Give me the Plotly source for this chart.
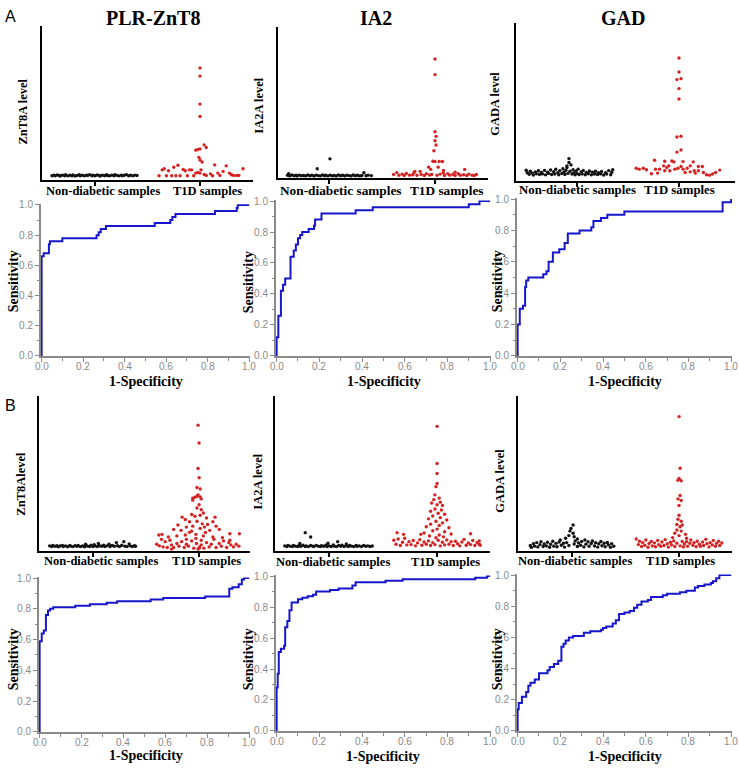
import plotly.graph_objects as go

# ---------------- DATA ----------------
CATEGORIES = ["Non-diabetic samples", "T1D samples"]
COLUMN_TITLES = ["PLR-ZnT8", "IA2", "GAD"]
SECTION_LABELS = ["A", "B"]
DOT_YTITLES_A = ["ZnT8A level", "IA2A level", "GADA level"]
DOT_YTITLES_B = ["ZnT8Alevel", "IA2A level", "GADA level"]
ROC_TICKS = [0.0, 0.2, 0.4, 0.6, 0.8, 1.0]

# dot plots: (jitter offset in category units, level in % of axis height)
A1_ND = [(-0.41,2.6),(-0.39,3.0),(-0.38,2.5),(-0.36,3.1),(-0.34,2.7),(-0.33,2.4),(-0.31,3.0),(-0.29,2.6),
         (-0.28,3.2),(-0.26,2.5),(-0.24,2.9),(-0.22,2.6),(-0.21,3.1),(-0.19,2.4),(-0.17,2.8),(-0.15,3.2),
         (-0.14,2.6),(-0.12,2.9),(-0.10,2.5),(-0.08,3.0),(-0.07,2.7),(-0.05,3.3),(-0.03,2.5),(-0.02,2.9),
         (0.00,2.6),(0.02,3.1),(0.04,2.7),(0.05,2.4),(0.07,3.0),(0.09,2.6),(0.11,3.2),(0.12,2.7),
         (0.14,2.5),(0.16,3.0),(0.18,2.6),(0.19,3.2),(0.21,2.8),(0.23,2.5),(0.25,3.0),(0.26,2.6),
         (0.28,2.9),(0.30,3.3),(0.32,2.6),(0.34,2.9),(0.36,2.5),(0.38,3.0),(0.40,2.7)]
A1_T1D = [(0.00,72.6),(0.00,67.3),(0.00,49.1),(0.00,41.0),(0.04,22.6),(0.06,20.9),(-0.04,19.2),(-0.02,19.7),
          (0.00,19.9),(-0.01,14.5),(0.00,12.8),(0.02,11.5),(0.01,6.4),(0.00,4.3),(0.04,3.4),(-0.39,2.6),
          (-0.36,6.4),(-0.34,7.1),(-0.32,2.6),(-0.30,5.8),(-0.27,2.6),(-0.25,8.1),(-0.23,2.6),(-0.21,9.4),
          (-0.19,2.6),(-0.16,6.6),(-0.14,5.8),(-0.12,2.6),(-0.10,6.4),(-0.08,6.4),(-0.06,2.6),(-0.04,4.3),
          (-0.02,4.7),(0.06,2.8),(0.10,3.8),(0.12,2.6),(0.14,9.6),(0.17,4.3),(0.19,2.8),(0.22,5.3),
          (0.25,9.0),(0.28,4.3),(0.30,3.2),(0.32,2.8),(0.35,2.8),(0.37,2.8),(0.41,7.1)]

A2_ND = [(-0.39,1.6),(-0.37,1.2),(-0.35,1.8),(-0.33,1.3),(-0.31,1.6),(-0.30,1.1),(-0.28,1.7),(-0.26,1.3),
         (-0.24,1.5),(-0.22,1.2),(-0.20,1.8),(-0.18,1.3),(-0.16,1.6),(-0.14,1.1),(-0.12,1.7),(-0.10,1.4),
         (-0.08,1.2),(-0.06,1.8),(-0.04,1.3),(-0.03,1.6),(-0.01,1.2),(0.01,1.7),(0.03,1.3),(0.05,1.5),
         (0.07,1.1),(0.09,1.8),(0.11,1.3),(0.13,1.6),(0.15,1.2),(0.17,1.7),(0.19,1.4),(0.21,1.2),
         (0.23,1.8),(0.25,1.3),(0.27,1.6),(0.29,1.2),(0.31,1.5),(0.35,1.3),(0.37,1.7),(0.40,1.4),
         (0.01,12.5),(-0.11,5.9),(0.33,3.3),(-0.38,2.6)]
A2_T1D = [(0.00,78.6),(0.00,68.3),(0.00,30.4),(0.01,27.4),(0.00,24.5),(0.01,21.7),(-0.01,17.9),(-0.02,10.9),
          (0.00,10.7),(0.04,10.7),(0.07,10.7),(-0.06,7.0),(-0.04,5.5),(0.03,7.0),(0.08,4.8),(-0.19,4.2),
          (-0.14,4.2),(0.28,5.5),(0.19,3.7),(-0.20,3.1),(0.08,3.1),
          (-0.39,2.2),(-0.36,3.4),(-0.34,1.6),(-0.31,2.4),(-0.29,1.5),(-0.27,2.8),(-0.24,1.7),(-0.21,2.0),
          (-0.17,1.6),(-0.13,2.1),(-0.10,1.5),(-0.08,2.6),(-0.05,1.8),(-0.03,2.2),(0.02,1.6),(0.05,2.4),
          (0.09,1.5),(0.12,2.7),(0.14,1.7),(0.17,2.3),(0.19,1.5),(0.22,2.6),(0.24,1.6),(0.27,2.0),
          (0.30,1.5),(0.32,2.4),(0.35,1.7),(0.37,1.5),(0.39,2.1)]

A3_ND = [(-0.50,6.6),(-0.49,5.0),(-0.47,4.1),(-0.46,6.0),(-0.44,4.8),(-0.43,3.6),(-0.41,5.6),(-0.40,4.4),
         (-0.38,6.3),(-0.37,3.9),(-0.35,5.2),(-0.34,4.3),(-0.32,6.5),(-0.31,3.7),(-0.29,5.4),(-0.28,4.6),
         (-0.26,6.8),(-0.25,3.9),(-0.23,5.7),(-0.22,4.2),(-0.21,7.2),(-0.19,5.0),(-0.18,3.8),(-0.17,6.3),
         (-0.15,4.5),(-0.14,7.6),(-0.13,5.3),(-0.12,3.9),(-0.11,6.6),(-0.10,8.3),(-0.09,4.6),(-0.08,14.0),
         (-0.08,11.5),(-0.07,6.0),(-0.06,10.0),(-0.05,4.2),(-0.10,9.4),(-0.04,7.0),(-0.03,5.1),(-0.02,3.7),
         (-0.01,6.2),(0.00,4.5),(0.01,7.3),(0.02,3.9),(0.04,5.6),(0.05,4.3),(0.06,6.5),(0.08,3.8),
         (0.09,5.2),(0.11,4.4),(0.12,6.1),(0.14,3.7),(0.15,5.4),(0.17,4.2),(0.18,6.0),(0.20,3.9),
         (0.21,5.0),(0.23,4.3),(0.24,5.8),(0.26,3.6),(0.28,5.1),(0.29,4.2),(0.31,6.4),(0.33,3.8),
         (0.34,5.3),(0.35,7.0)]
A3_T1D = [(0.00,77.7),(0.00,68.8),(-0.02,64.0),(0.02,64.6),(0.00,58.3),(0.00,51.7),(-0.02,27.7),(0.02,28.1),
          (0.02,19.4),(-0.02,18.1),(-0.24,12.9),(-0.14,12.3),(-0.07,12.5),(-0.05,11.9),(0.04,12.1),(0.14,11.9),
          (-0.15,9.4),(-0.10,9.4),(0.02,9.0),(0.11,9.4),(0.19,9.0),(0.23,9.0),(-0.35,7.9),(-0.39,7.3),
          (-0.32,6.9),(-0.27,4.4),(-0.23,7.3),(-0.21,4.8),(-0.19,7.3),(-0.14,6.3),(-0.09,6.3),(-0.04,7.3),
          (-0.01,7.9),(0.04,7.3),(0.08,7.9),(0.11,5.6),(0.15,6.3),(0.19,6.3),(0.24,5.2),(0.27,3.8),
          (0.30,3.5),(0.33,4.2),(0.36,5.2),(0.40,6.7),(-0.42,7.9),(-0.12,8.3),(0.06,5.2),(0.16,4.8)]

B1_ND = [(-0.41,3.2),(-0.39,2.7),(-0.38,3.4),(-0.36,2.9),(-0.34,3.3),(-0.33,2.6),(-0.31,3.1),(-0.29,3.5),
         (-0.28,2.8),(-0.26,3.2),(-0.24,2.6),(-0.22,3.4),(-0.21,3.0),(-0.19,2.7),(-0.17,3.3),(-0.15,2.9),
         (-0.14,3.5),(-0.12,2.7),(-0.10,3.1),(-0.08,2.6),(-0.07,3.4),(-0.05,3.0),(-0.03,2.7),(-0.02,3.6),
         (0.00,2.8),(0.01,4.0),(0.02,3.2),(0.04,2.7),(0.05,4.7),(0.06,3.3),(0.08,2.9),(0.10,3.6),
         (0.11,2.7),(0.13,3.2),(0.15,4.2),(0.16,2.8),(0.18,3.4),(0.20,2.9),(0.22,5.3),(0.23,3.3),
         (0.25,2.7),(0.27,3.6),(0.29,5.9),(0.30,3.0),(0.32,2.7),(0.34,4.4),(0.35,3.2),(0.37,2.8),
         (0.39,3.3),(0.40,2.9),(-0.07,4.2)]
B1_T1D = [(-0.01,81.1),(0.00,69.6),(-0.01,53.1),(0.00,47.1),(-0.02,40.8),(0.01,39.9),
          (-0.06,34.0),(-0.04,34.6),(-0.02,35.2),(-0.01,36.1),(0.01,34.8),(0.02,33.5),(-0.06,32.7),
          (0.00,29.7),(-0.02,27.6),(0.02,26.5),(0.04,24.4),(-0.07,23.4),(-0.04,22.3),(0.01,22.9),(-0.16,21.7),
          (0.07,21.2),(0.15,21.7),(-0.13,20.2),(-0.09,18.7),(-0.02,19.1),(0.03,17.4),(0.08,17.0),(0.13,18.7),
          (-0.20,16.6),(-0.12,15.3),(-0.06,15.9),(0.01,14.4),(0.05,15.3),(0.16,15.9),(-0.24,13.8),(-0.17,13.2),
          (-0.07,12.7),(0.10,13.2),(0.19,13.8),(-0.35,10.6),(-0.38,10.2),(-0.29,8.9),(-0.21,9.6),(-0.13,10.2),
          (-0.03,10.6),(0.04,9.6),(0.13,8.9),(0.22,8.5),(0.29,11.0),(0.38,11.0),
          (-0.40,4.2),(-0.375,3.2),(-0.34,2.5),(-0.32,5.9),(-0.30,2.1),(-0.275,6.8),(-0.26,3.8),(-0.24,2.1),
          (-0.21,4.7),(-0.19,3.0),(-0.165,5.9),(-0.14,2.1),(-0.12,4.2),(-0.10,3.0),(-0.07,6.4),(-0.05,1.7),
          (-0.025,4.7),(-0.01,1.1),(0.005,2.5),(0.02,3.8),(0.045,1.7),(0.07,5.3),(0.095,2.5),(0.115,4.2),
          (0.14,7.4),(0.16,2.1),(0.19,4.7),(0.21,3.0),(0.23,6.4),(0.26,2.1),(0.28,5.3),(0.30,3.8),
          (0.325,2.5),(0.35,4.2),(0.375,3.0),(-0.355,7.4),(-0.12,7.4),(0.02,6.8),(0.29,6.8),(-0.26,1.1),
          (0.00,1.7),(-0.03,8.0),(0.06,11.8),(-0.09,11.9)]

B2_ND = [(-0.41,3.2),(-0.39,2.8),(-0.38,3.5),(-0.36,3.0),(-0.34,2.7),(-0.33,3.4),(-0.31,3.0),(-0.29,2.7),
         (-0.28,3.3),(-0.26,2.9),(-0.24,3.6),(-0.22,2.8),(-0.21,3.2),(-0.19,2.7),(-0.17,3.4),(-0.15,3.0),
         (-0.14,2.7),(-0.12,3.5),(-0.10,3.0),(-0.08,2.8),(-0.07,3.3),(-0.05,2.9),(-0.03,3.6),(-0.02,2.7),
         (0.00,3.2),(0.02,2.8),(0.04,3.8),(0.05,3.0),(0.07,2.7),(0.09,3.4),(0.11,2.9),(0.12,3.6),
         (0.14,2.8),(0.16,3.3),(0.18,2.7),(0.19,3.5),(0.21,3.0),(0.23,2.7),(0.25,3.4),(0.26,2.9),
         (0.28,3.2),(0.30,2.7),(0.32,3.4),(0.34,2.9),(0.36,3.2),(0.38,2.8),(0.40,3.1),
         (-0.22,11.7),(-0.17,8.9),(-0.27,4.7),(-0.01,4.9),(0.08,5.9),(0.16,4.4)]
B2_T1D = [(0.00,80.3),(0.00,56.3),(0.00,49.9),(0.00,43.5),(-0.01,41.4),(-0.02,36.1),
          (-0.03,33.0),(0.02,34.0),(0.03,31.4),(-0.05,30.8),(0.00,29.7),(0.05,29.3),(-0.02,27.0),(0.04,26.3),
          (-0.06,25.5),(0.01,24.2),(0.07,23.6),(-0.04,22.5),(0.03,21.4),(-0.08,20.6),(0.09,19.9),(-0.01,19.1),
          (0.05,18.0),(-0.06,17.2),(0.02,16.3),(-0.10,15.5),(0.11,14.9),(0.00,14.0),(-0.04,12.9),(0.07,12.3),
          (-0.12,11.5),(0.13,10.8),(0.02,10.2),(-0.07,9.5),
          (-0.37,11.7),(-0.31,10.6),(-0.15,10.6),(0.31,11.0),(0.39,6.4),
          (-0.40,6.8),(-0.38,4.2),(-0.36,7.6),(-0.34,3.4),(-0.32,5.5),(-0.30,8.1),(-0.28,3.8),(-0.26,5.9),
          (-0.24,4.0),(-0.22,6.6),(-0.20,3.2),(-0.18,5.1),(-0.16,7.2),(-0.14,3.6),(-0.12,5.7),(-0.10,4.2),
          (-0.08,6.4),(-0.06,3.4),(-0.04,5.3),(-0.02,4.0),(0.01,6.8),(0.03,3.2),(0.05,5.5),(0.07,3.8),
          (0.09,7.0),(0.11,4.2),(0.13,5.9),(0.15,3.4),(0.17,6.2),(0.19,4.5),(0.21,3.2),(0.23,5.7),
          (0.25,7.4),(0.27,3.6),(0.29,5.1),(0.31,4.0),(0.33,6.6),(0.35,3.4),(0.37,5.3),(0.39,4.2),
          (0.40,3.6),(-0.01,8.4),(0.06,9.0)]

B3_ND = [(-0.39,3.4),(-0.38,2.2),(-0.36,4.6),(-0.35,3.0),(-0.33,5.3),(-0.32,2.5),(-0.30,4.0),(-0.29,5.9),
         (-0.27,2.8),(-0.26,4.4),(-0.24,3.2),(-0.23,5.5),(-0.21,2.3),(-0.20,4.2),(-0.18,6.2),(-0.17,3.0),
         (-0.15,4.8),(-0.14,2.6),(-0.12,5.7),(-0.11,7.0),(-0.10,3.6),(-0.08,4.9),(-0.07,2.4),(-0.06,8.1),
         (-0.05,5.3),(-0.03,9.8),(-0.03,3.4),(-0.02,12.7),(-0.01,14.4),(0.01,16.6),(0.01,11.3),(0.02,9.1),
         (0.02,4.4),(0.03,6.4),(0.05,7.6),(0.05,2.8),(0.06,5.1),(0.08,3.6),(0.09,6.0),(0.11,2.5),
         (0.12,7.0),(0.13,4.3),(0.15,5.8),(0.16,2.9),(0.18,4.7),(0.19,6.3),(0.21,3.1),(0.22,5.2),
         (0.24,2.4),(0.25,4.5),(0.27,6.0),(0.28,3.3),(0.30,4.9),(0.31,2.6),(0.33,5.4),(0.34,3.8),
         (0.36,2.3),(0.37,4.6),(0.39,3.0)]
B3_T1D = [(0.00,86.6),(0.01,53.3),(0.00,46.7),(-0.01,45.6),(0.02,45.2),(0.01,35.7),(-0.01,33.5),(0.02,32.5),
          (0.00,29.3),(0.00,22.9),(-0.01,20.4),(0.02,19.1),(-0.02,17.0),(0.01,15.5),(0.03,16.6),(-0.02,13.4),
          (0.02,12.7),(-0.04,11.3),(0.06,10.6),(0.00,9.8),(-0.06,8.5),(0.07,8.1),
          (-0.40,7.6),(-0.38,4.0),(-0.37,6.2),(-0.35,2.8),(-0.34,5.3),(-0.32,3.6),(-0.31,7.0),(-0.29,2.3),
          (-0.28,4.7),(-0.26,6.0),(-0.25,3.2),(-0.23,5.1),(-0.22,2.6),(-0.20,6.6),(-0.19,4.0),(-0.17,2.9),
          (-0.16,5.7),(-0.14,3.4),(-0.13,7.2),(-0.11,4.5),(-0.10,2.4),(-0.08,5.5),(-0.07,3.8),(-0.05,6.4),
          (-0.04,2.8),(-0.02,4.9),(0.01,3.2),(0.03,6.0),(0.04,2.5),(0.05,4.4),(0.07,5.9),(0.08,3.0),
          (0.10,4.9),(0.11,7.0),(0.13,3.6),(0.14,5.3),(0.16,2.6),(0.17,6.2),(0.19,4.2),(0.20,2.9),
          (0.22,5.7),(0.23,3.4),(0.25,7.4),(0.26,4.6),(0.28,2.5),(0.29,5.2),(0.31,3.8),(0.32,6.6),
          (0.34,2.9),(0.35,4.8),(0.37,6.2),(0.38,3.4),(0.40,5.0)]

# ROC curves: (1-specificity, sensitivity) operating points
A1_FPR = [0, 0, 0.01, 0.035, 0.04, 0.10, 0.265, 0.275, 0.285, 0.31, 0.545, 0.62, 0.63, 0.645, 0.835, 0.94, 0.945, 1.0]
A1_TPR = [0, 0.66, 0.68, 0.74, 0.76, 0.78, 0.80, 0.82, 0.84, 0.86, 0.88, 0.90, 0.92, 0.94, 0.96, 0.98, 1.0, 1.0]
A2_FPR = [0, 0, 0.008, 0.02, 0.03, 0.04, 0.065, 0.08, 0.09, 0.10, 0.11, 0.12, 0.15, 0.175, 0.18, 0.21, 0.37, 0.45, 0.90, 0.95, 1.0]
A2_TPR = [0, 0.12, 0.26, 0.42, 0.46, 0.50, 0.64, 0.68, 0.72, 0.76, 0.78, 0.80, 0.82, 0.84, 0.88, 0.92, 0.94, 0.96, 0.98, 1.0, 1.0]
A3_FPR = [0, 0, 0.01, 0.025, 0.035, 0.04, 0.05, 0.12, 0.135, 0.145, 0.165, 0.195, 0.22, 0.235, 0.29, 0.345, 0.355, 0.39, 0.42, 0.50, 0.96, 1.0, 1.0]
A3_TPR = [0, 0.20, 0.30, 0.32, 0.44, 0.48, 0.50, 0.52, 0.54, 0.60, 0.66, 0.68, 0.72, 0.78, 0.80, 0.82, 0.86, 0.88, 0.90, 0.92, 0.98, 0.98, 1.0]
B1_FPR = [0, 0, 0.01, 0.02, 0.03, 0.04, 0.05, 0.065, 0.17, 0.24, 0.32, 0.37, 0.53, 0.59, 0.79, 0.905, 0.92, 0.95, 0.965, 0.975, 1.0]
B1_TPR = [0, 0.59, 0.64, 0.66, 0.76, 0.79, 0.80, 0.81, 0.82, 0.83, 0.84, 0.85, 0.86, 0.87, 0.88, 0.93, 0.94, 0.96, 0.99, 1.0, 1.0]
B2_FPR = [0, 0, 0.005, 0.01, 0.02, 0.035, 0.04, 0.05, 0.06, 0.07, 0.10, 0.12, 0.145, 0.17, 0.185, 0.25, 0.29, 0.355, 0.37, 0.51, 0.59, 0.93, 0.985, 1.0]
B2_TPR = [0, 0.28, 0.37, 0.51, 0.53, 0.55, 0.67, 0.71, 0.78, 0.83, 0.85, 0.86, 0.87, 0.88, 0.90, 0.91, 0.92, 0.94, 0.96, 0.97, 0.98, 0.99, 1.0, 1.0]
B3_FPR = [0, 0, 0.005, 0.02, 0.04, 0.05, 0.06, 0.08, 0.10, 0.14, 0.15, 0.17, 0.19, 0.205, 0.215, 0.225, 0.24, 0.26, 0.31, 0.34,
          0.39, 0.40, 0.415, 0.445, 0.46, 0.475, 0.50, 0.525, 0.545, 0.56, 0.58, 0.61, 0.625, 0.68, 0.70, 0.76, 0.79, 0.83,
          0.845, 0.875, 0.905, 0.915, 0.93, 0.945, 1.0]
B3_TPR = [0, 0.14, 0.18, 0.22, 0.25, 0.29, 0.31, 0.33, 0.37, 0.39, 0.41, 0.43, 0.45, 0.54, 0.56, 0.58, 0.60, 0.61, 0.63, 0.64,
          0.65, 0.66, 0.67, 0.69, 0.71, 0.75, 0.76, 0.77, 0.79, 0.81, 0.83, 0.84, 0.86, 0.87, 0.88, 0.89, 0.90, 0.92,
          0.93, 0.94, 0.95, 0.96, 0.98, 1.0, 1.0]

# ---------------- LAYOUT ----------------
W, H = 739, 768
SERIF = "Liberation Serif"
SANS = "Liberation Sans"
RED = "#d42323"
BLACK = "#111111"
BLUE = "#1616cc"
GRAY = "#8a8a8a"
XR = [-0.003, 1.004]


def fx(p):
    return p / W


def fy(p):
    return 1 - p / H


dot_panels = [
    dict(nd=A1_ND, t1d=A1_T1D, dom=((42, 253), (21, 177)), xr=(0.495, 2.505), yt=DOT_YTITLES_A[0],
         ytpos=(23, 108), lab=((103, 188), (207, 188)), fs=12.5),
    dict(nd=A2_ND, t1d=A2_T1D, dom=((278, 488), (22, 175)), xr=(0.52, 2.50), yt=DOT_YTITLES_A[1],
         ytpos=(259, 102), lab=((341, 188), (447, 188)), fs=13.3),
    dict(nd=A3_ND, t1d=A3_T1D, dom=((516, 735), (18, 178)), xr=(0.40, 2.55), yt=DOT_YTITLES_A[2],
         ytpos=(495, 100), lab=((577, 187), (679, 187)), fs=12.8),
    dict(nd=B1_ND, t1d=B1_T1D, dom=((39, 250), (396, 553)), xr=(0.49, 2.48), yt=DOT_YTITLES_B[0],
         ytpos=(21, 485), lab=((101, 563), (206, 563)), fs=12.5),
    dict(nd=B2_ND, t1d=B2_T1D, dom=((275, 490), (396, 553)), xr=(0.50, 2.49), yt=DOT_YTITLES_B[1],
         ytpos=(258, 483), lab=((333, 564), (446, 564)), fs=12.5),
    dict(nd=B3_ND, t1d=B3_T1D, dom=((518, 732), (396, 553)), xr=(0.495, 2.495), yt=DOT_YTITLES_B[2],
         ytpos=(500, 482), lab=((575, 563), (680, 563)), fs=12.5),
]
roc_panels = [
    dict(fpr=A1_FPR, tpr=A1_TPR, dom=((41, 250), (202, 356)), yt=(13, 280), xt=(146, 381)),
    dict(fpr=A2_FPR, tpr=A2_TPR, dom=((276, 491), (198, 356)), yt=(248, 281), xt=(384, 381)),
    dict(fpr=A3_FPR, tpr=A3_TPR, dom=((517, 732), (196, 356)), yt=(497, 280), xt=(625, 381)),
    dict(fpr=B1_FPR, tpr=B1_TPR, dom=((39, 250), (580, 737)), yt=(13, 663), xt=(146, 760)),
    dict(fpr=B2_FPR, tpr=B2_TPR, dom=((276, 491), (578, 736)), yt=(248, 663), xt=(383, 761)),
    dict(fpr=B3_FPR, tpr=B3_TPR, dom=((517, 732), (577, 736)), yt=(497, 663), xt=(625, 761)),
]

fig = go.Figure()
layout = dict(width=W, height=H, margin=dict(l=0, r=0, t=0, b=0),
              paper_bgcolor="white", plot_bgcolor="white", showlegend=False)
annotations = []


def ann(text, xp, yp, size, family=SERIF, bold=True, angle=0, color="black", xpaper=None):
    annotations.append(dict(
        text=text, x=fx(xp) if xpaper is None else xpaper, y=fy(yp), xref="paper", yref="paper",
        showarrow=False, textangle=angle, xanchor="center", yanchor="middle",
        font=dict(family=family, size=size, color=color, weight="bold" if bold else "normal")))


n = 0
for p in dot_panels:
    n += 1
    xa, ya = f"x{n}", f"y{n}"
    (x0, x1), (y0, y1) = p["dom"]
    for pts, base, col in ((p["nd"], 1, BLACK), (p["t1d"], 2, RED)):
        fig.add_trace(go.Scatter(
            x=[base + d for d, _ in pts], y=[v for _, v in pts], mode="markers",
            marker=dict(color=col, size=3.4, symbol="circle"),
            xaxis=xa, yaxis=ya, hoverinfo="skip", cliponaxis=False))
    layout[f"xaxis{n}"] = dict(
        domain=[fx(x0), fx(x1)], range=list(p["xr"]), anchor=ya,
        tickvals=[1, 2], showticklabels=False, ticks="outside", ticklen=4, tickwidth=1.5,
        tickcolor="black", showline=True, linecolor="black", linewidth=2,
        showgrid=False, zeroline=False)
    layout[f"yaxis{n}"] = dict(
        domain=[fy(y1), fy(y0)], range=[0, 100], anchor=xa,
        showline=True, linecolor="black", linewidth=2, showticklabels=False,
        ticks="", showgrid=False, zeroline=False)
    ann(p["yt"], p["ytpos"][0], p["ytpos"][1], 12.5, angle=-90)
    for cat, (lx, ly) in zip(CATEGORIES, p["lab"]):
        ann(cat, lx, ly, p["fs"])

for p in roc_panels:
    n += 1
    xa, ya = f"x{n}", f"y{n}"
    (x0, x1), (y0, y1) = p["dom"]
    fig.add_trace(go.Scatter(
        x=p["fpr"], y=p["tpr"], mode="lines", line=dict(color=BLUE, width=2, shape="hv"),
        xaxis=xa, yaxis=ya, hoverinfo="skip"))
    common = dict(range=XR, tickvals=ROC_TICKS, tickformat=".1f", ticks="outside",
                  ticklen=4, tickwidth=1, tickcolor=GRAY, showline=True, linecolor=GRAY, linewidth=2,
                  showgrid=False, zeroline=False,
                  minor=dict(ticks="outside", dtick=0.1, ticklen=2.5, tickcolor=GRAY, tick0=0),
                  tickfont=dict(family=SANS, size=10, color=GRAY))
    layout[f"xaxis{n}"] = dict(domain=[fx(x0), fx(x1)], anchor=ya, showticklabels=False, **common)
    layout[f"yaxis{n}"] = dict(domain=[fy(y1), fy(y0)], anchor=xa, **common)
    # x tick labels placed just under the axis, as in the reference
    for t in ROC_TICKS:
        xpaper = fx(x0) + (t - XR[0]) / (XR[1] - XR[0]) * (fx(x1) - fx(x0))
        ann(f"{t:.1f}", 0, y1 + 10, 10, family=SANS, bold=False, color=GRAY, xpaper=xpaper)
    ann("Sensitivity", p["yt"][0], p["yt"][1], 14, angle=-90)
    ann("1-Specificity", p["xt"][0], p["xt"][1], 14)

for title, xp in zip(COLUMN_TITLES, (153, 376, 623)):
    ann(title, xp, 13, 20)
for lab, yp in zip(SECTION_LABELS, (12, 406)):
    ann(lab, 10, yp, 16, family=SANS, bold=False)

layout["annotations"] = annotations
fig.update_layout(**layout)
fig.write_html("out.html", config={"displayModeBar": False},
               post_script="document.body.style.margin='0px';document.body.style.padding='0px';")
